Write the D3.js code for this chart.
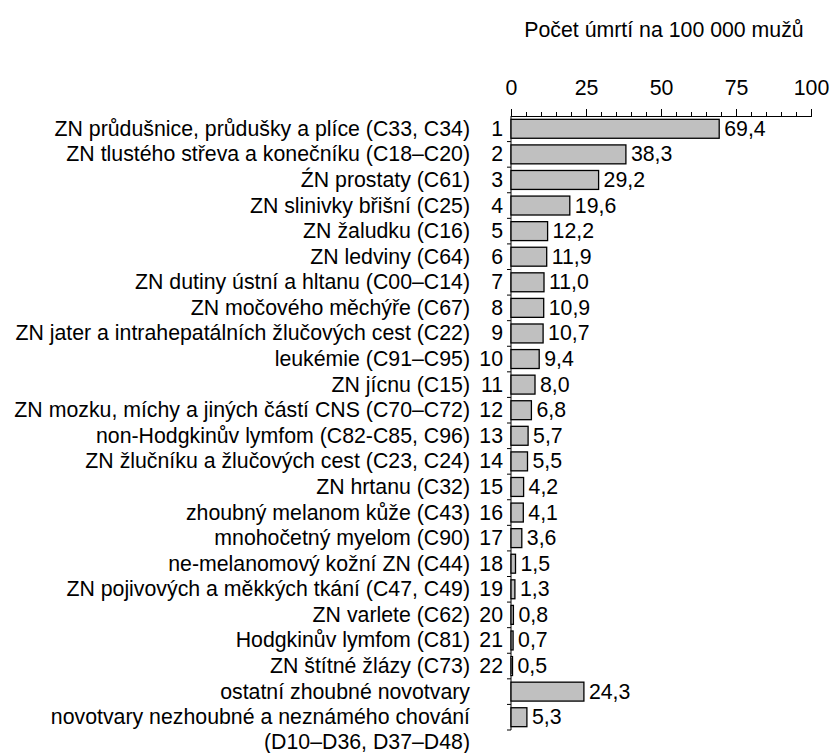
<!DOCTYPE html>
<html>
<head>
<meta charset="utf-8">
<script src="https://cdn.jsdelivr.net/npm/d3@7"></script>
<style>
  body { margin: 0; background: #fff; }
  svg { display: block; font-family: "Liberation Sans", Arial, sans-serif; }
</style>
</head>
<body>
<svg id="chart" width="830" height="753"></svg>
<script>
// Data
const categories = [
    'ZN průdušnice, průdušky a plíce (C33, C34)',
    'ZN tlustého střeva a konečníku (C18–C20)',
    'ŹN prostaty (C61)',
    'ZN slinivky břišní (C25)',
    'ZN žaludku (C16)',
    'ZN ledviny (C64)',
    'ZN dutiny ústní a hltanu (C00–C14)',
    'ZN močového měchýře (C67)',
    'ZN jater a intrahepatálních žlučových cest (C22)',
    'leukémie (C91–C95)',
    'ZN jícnu (C15)',
    'ZN mozku, míchy a jiných částí CNS (C70–C72)',
    'non-Hodgkinův lymfom (C82-C85, C96)',
    'ZN žlučníku a žlučových cest (C23, C24)',
    'ZN hrtanu (C32)',
    'zhoubný melanom kůže (C43)',
    'mnohočetný myelom (C90)',
    'ne-melanomový kožní ZN (C44)',
    'ZN pojivových a měkkých tkání (C47, C49)',
    'ZN varlete (C62)',
    'Hodgkinův lymfom (C81)',
    'ZN štítné žlázy (C73)',
    'ostatní zhoubné novotvary',
    'novotvary nezhoubné a neznámého chování|(D10–D36, D37–D48)'
];
const ranks = ['1', '2', '3', '4', '5', '6', '7', '8', '9', '10', '11',
    '12', '13', '14', '15', '16', '17', '18', '19', '20', '21', '22', '', ''];
const values = [69.4, 38.3, 29.2, 19.6, 12.2, 11.9, 11.0, 10.9, 10.7, 9.4, 8.0,
    6.8, 5.7, 5.5, 4.2, 4.1, 3.6, 1.5, 1.3, 0.8, 0.7, 0.5, 24.3, 5.3];
const xTicks = [0, 25, 50, 75, 100];
const axisTitle = 'Počet úmrtí na 100 000 mužů';

const rows = categories.map((c, i) => ({ label: c, rank: ranks[i], value: values[i], idx: i }));

const svg = d3.select('#chart');
const fontSize = 21.3;

const x = d3.scaleLinear().domain([0, 100]).range([511, 811]);
const y = d3.scaleBand().domain(rows.map(d => d.idx)).range([116, 730]).paddingInner(0.26).paddingOuter(0.13);

const fmt = v => v.toFixed(1).replace('.', ',');

// Title
svg.append('text')
    .attr('x', 664)
    .attr('y', 30)
    .attr('text-anchor', 'middle')
    .attr('dominant-baseline', 'central')
    .attr('font-size', fontSize)
    .text(axisTitle);

// Top axis: minor ticks, then major ticks with labels
const gx = svg.append('g').attr('transform', 'translate(0,116)');
gx.call(d3.axisTop(x).tickValues(d3.range(0, 101, 5)).tickSize(4).tickFormat(''));
gx.append('g').call(d3.axisTop(x).tickValues(xTicks).tickSize(7).tickPadding(14).tickFormat(d3.format('d')));
gx.selectAll('.domain').attr('stroke', '#000');
gx.selectAll('line').attr('stroke', '#000');
gx.selectAll('text').attr('font-size', fontSize).attr('font-family', null).attr('fill', '#000');

// Left axis line with ticks at band boundaries
const bounds = d3.range(1, rows.length + 1).map(i => 116 + i * (614 / rows.length));
const gy = svg.append('g');
gy.append('line')
    .attr('x1', x(0)).attr('x2', x(0))
    .attr('y1', 116).attr('y2', 730)
    .attr('stroke', '#000');
gy.selectAll('.ytick')
    .data(bounds)
    .enter()
    .append('line')
    .attr('class', 'ytick')
    .attr('x1', x(0) - 4).attr('x2', x(0))
    .attr('y1', d => d).attr('y2', d => d)
    .attr('stroke', '#000');

// Bars
svg.selectAll('.bar')
    .data(rows)
    .enter()
    .append('rect')
    .attr('class', 'bar')
    .attr('x', x(0))
    .attr('y', d => y(d.idx))
    .attr('width', d => x(d.value) - x(0))
    .attr('height', y.bandwidth())
    .attr('fill', '#c0c0c0')
    .attr('stroke', '#000')
    .attr('stroke-width', 1.3);

// Value labels
svg.selectAll('.val')
    .data(rows)
    .enter()
    .append('text')
    .attr('class', 'val')
    .attr('x', d => x(d.value) + 5)
    .attr('y', d => y(d.idx) + y.bandwidth() / 2)
    .attr('dominant-baseline', 'central')
    .attr('font-size', fontSize)
    .text(d => fmt(d.value));

// Rank labels
svg.selectAll('.rank')
    .data(rows)
    .enter()
    .append('text')
    .attr('class', 'rank')
    .attr('x', 503)
    .attr('y', d => y(d.idx) + y.bandwidth() / 2)
    .attr('text-anchor', 'end')
    .attr('dominant-baseline', 'central')
    .attr('font-size', fontSize)
    .text(d => d.rank);

// Category labels (split on | for two-line label)
const cat = svg.selectAll('.cat')
    .data(rows)
    .enter()
    .append('text')
    .attr('class', 'cat')
    .attr('text-anchor', 'end')
    .attr('font-size', fontSize);
cat.selectAll('tspan')
    .data(d => d.label.split('|').map((t, i) => ({ t, i, d })))
    .enter()
    .append('tspan')
    .attr('x', 470)
    .attr('y', p => y(p.d.idx) + y.bandwidth() / 2 + p.i * 25)
    .attr('dominant-baseline', 'central')
    .text(p => p.t);
</script>
</body>
</html>
